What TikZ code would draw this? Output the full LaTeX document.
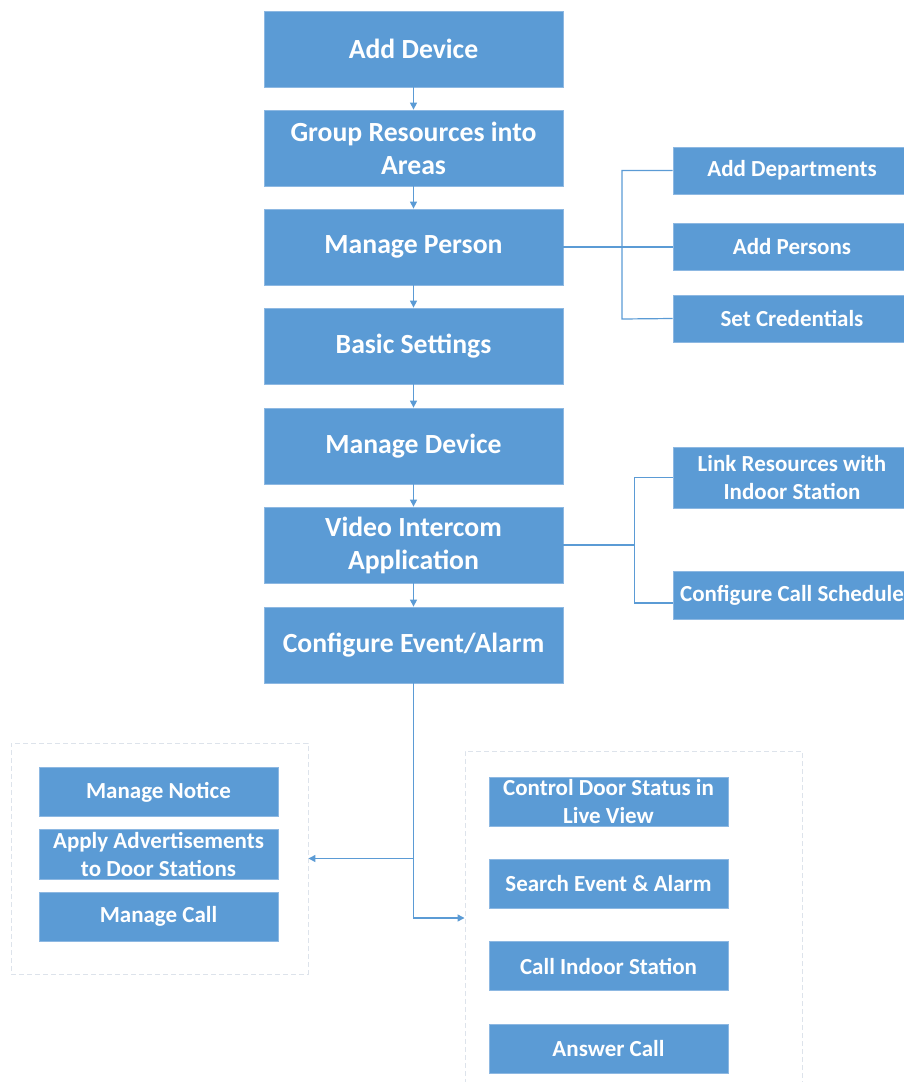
\documentclass[tikz,border=0pt]{standalone}
\usepackage{fontspec}
\setmainfont{Carlito}
\usepackage{xcolor}
\definecolor{boxblue}{HTML}{5B9BD5}
\definecolor{edgeblue}{HTML}{8DB8E2}
\definecolor{dashgray}{HTML}{DDE3EB}
\usetikzlibrary{arrows.meta}

\begin{document}
\begin{tikzpicture}[x=1pt, y=-1pt,
  main/.style={fill=boxblue, draw=edgeblue, line width=0.8pt, text=white, align=center,
               minimum width=299pt, minimum height=76pt, inner sep=1pt,
               font=\fontsize{27.7}{33}\selectfont\bfseries},
  side/.style={fill=boxblue, draw=edgeblue, line width=0.8pt, text=white, align=center,
               minimum width=238pt, inner sep=1pt,
               font=\fontsize{23}{28}\selectfont\bfseries},
  grp/.style={draw=dashgray, line width=0.9pt, dash pattern=on 5pt off 3pt},
  link/.style={-{Triangle[length=7pt,width=7pt]}, boxblue, line width=1.3pt},
  branch/.style={boxblue, line width=1.2pt}
]
  \useasboundingbox (0,0) rectangle (903,1082);

  % main flow
  \node[main] (s1) at (413.5,49)  {Add Device};
  \node[main] (s2) at (413.5,148) {Group Resources into\\Areas};
  \node[main] (s3) at (413.5,247) {Manage Person};
  \node[main] (s4) at (413.5,346) {Basic Settings};
  \node[main] (s5) at (413.5,446) {Manage Device};
  \node[main] (s6) at (413.5,545) {Video Intercom\\Application};
  \node[main] (s7) at (413.5,645) {Configure Event/Alarm};

  \draw[link] (s1)--(s2);
  \draw[link] (s2)--(s3);
  \draw[link] (s3)--(s4);
  \draw[link] (s4)--(s5);
  \draw[link] (s5)--(s6);
  \draw[link] (s6)--(s7);

  % person branch
  \node[side, minimum height=47pt] (p1) at (792,170.5) {Add Departments};
  \node[side, minimum height=47pt] (p2) at (792,247)   {Add Persons};
  \node[side, minimum height=47pt] (p3) at (792,318.5) {Set Credentials};

  \draw[branch] (s3.east) -- (p2.west);
  \draw[branch] (p1.west) -| (622,319) -- (p3.west);

  % intercom branch
  \node[side, minimum height=61pt] (v1) at (792,477.5) {Link Resources with\\Indoor Station};
  \node[side, minimum height=48pt] (v2) at (792,595) {Configure Call Schedule};

  \draw[branch] (s6.east) -- ++(71,0) coordinate (vj) |- (v1.west);
  \draw[branch] (vj) |- ([yshift=-8pt]v2.west);

  % left group
  \node[grp, minimum width=297pt, minimum height=231pt] (gl) at (159.5,858.5) {};
  \node[side, minimum width=239pt, minimum height=49pt] (l1) at (158.5,792)   {Manage Notice};
  \node[side, minimum width=239pt, minimum height=50pt] (l2) at (158.5,854)   {Apply Advertisements\\to Door Stations};
  \node[side, minimum width=239pt, minimum height=49pt] (l3) at (158.5,916.5) {Manage Call};

  % right group
  \node[grp, minimum width=337pt, minimum height=334pt] (gr) at (633.5,918) {};
  \node[side, minimum width=239pt, minimum height=49pt] (r1) at (608.5,801.5)  {Control Door Status in\\Live View};
  \node[side, minimum width=239pt, minimum height=49pt] (r2) at (608.5,883.5)  {Search Event \& Alarm};
  \node[side, minimum width=239pt, minimum height=49pt] (r3) at (608.5,966)    {Call Indoor Station};
  \node[side, minimum width=239pt, minimum height=49pt] (r4) at (608.5,1048.5) {Answer Call};

  \draw[link] (s7.south) |- (gl.east);
  \draw[link] (s7.south) |- (gr.west);
\end{tikzpicture}
\end{document}
